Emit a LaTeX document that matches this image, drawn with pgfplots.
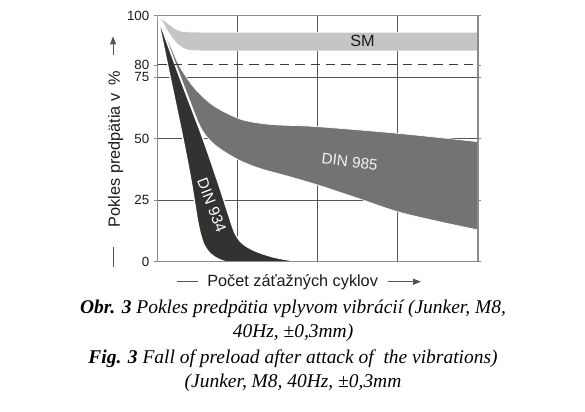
\documentclass[border=0pt]{standalone}
\usepackage{pgfplots}
\pgfplotsset{compat=1.18}
\usepgfplotslibrary{fillbetween}
\usetikzlibrary{arrows.meta}
\usepackage{fontspec}
\setmainfont{Liberation Sans}
\newfontfamily\capfont{Liberation Serif}
\definecolor{smfill}{HTML}{C5C5C5}
\definecolor{dinA}{HTML}{737373}
\definecolor{dinB}{HTML}{323230}
\definecolor{gridc}{HTML}{555555}
\definecolor{framec}{HTML}{8A8A8A}
\definecolor{txt}{HTML}{1A1A1A}
\begin{document}
\begin{tikzpicture}
\begin{axis}[
  at={(0pt,0pt)}, anchor=south west,
  scale only axis, width=240.5pt, height=184.5pt,
  xmin=0, xmax=4, ymin=0, ymax=100,
  axis line style={draw=framec, line width=0.9pt},
  xtick={1,2,3}, xticklabels={},
  xtick style={/pgfplots/major tick length=0pt},
  ytick={0,25,50,75,100},
  extra y ticks={80}, extra y tick style={grid=none},
  tick align=outside, major tick length=2.5pt,
  ytick style={draw=framec, line width=0.6pt},
  grid=major,
  major grid style={draw=gridc, line width=0.6pt},
  tick label style={font=\fontsize{10}{11}\selectfont, text=txt},
  /pgf/number format/assume math mode=true,
  clip=true,
]
% dashed 80 % line
\addplot[draw=txt!85, line width=0.8pt, dash pattern=on 7pt off 4.5pt] coordinates {(0,80) (4,80)};

% SM band
\addplot[name path=smT, draw=none, smooth] coordinates {
 (0,100) (0.08,98.2) (0.16,96.2) (0.23,94.6) (0.3,93.7) (0.4,93.4) (0.6,93.3) (1,93.3) (2,93.3) (4,93.3)};
\addplot[name path=smB, draw=none, smooth] coordinates {
 (0,100) (0.06,97.6) (0.12,94.2) (0.18,91.2) (0.24,88.8) (0.32,86.8) (0.41,85.9) (0.6,85.7) (1,85.7) (2,85.7) (4,85.7)};
\addplot[fill=smfill, draw=white, line width=0.5pt] fill between[of=smT and smB];

% DIN 985 band
\addplot[name path=aT, draw=none, smooth] coordinates {
 (0,100) (0.075,94.2) (0.18,86.5) (0.28,79.3) (0.45,71.1) (0.66,64.4) (0.87,60.3) (1.07,57.6) (1.28,56.3) (1.5,55.6) (2,54.9) (3,52.2) (4,48.8)};
\addplot[name path=aB, draw=none, smooth] coordinates {
 (0,100) (0.14,88) (0.28,76) (0.41,65) (0.52,56) (0.6,51.5) (0.7,48) (0.8,45.5) (0.95,42.5) (1.05,40.8) (1.2,38.8) (1.35,37.2) (1.6,35) (2,31.2) (2.5,25.8) (3,20.3) (3.5,16.4) (4,12.9)};
\addplot[fill=dinA, draw=white, line width=0.5pt] fill between[of=aT and aB];

% DIN 934 band
\addplot[name path=bL, draw=none, smooth] coordinates {
 (0,100) (0.16,75) (0.32,50) (0.42,33) (0.5,17) (0.54,11) (0.58,7) (0.64,4) (0.71,2) (0.8,0.5) (0.86,0)};
\addplot[name path=bR, draw=none, smooth] coordinates {
 (0,100) (0.28,75) (0.57,50) (0.77,31) (0.92,16) (0.97,11.5) (1.03,8.5) (1.1,6.5) (1.2,4.7) (1.3,3.4) (1.45,1.9) (1.6,0.9) (1.8,0)};
\addplot[fill=dinB, draw=white, line width=1pt] fill between[of=bL and bR];

% frame on top
\draw[framec, line width=0.9pt] (rel axis cs:0,0) rectangle (rel axis cs:1,1);

% band labels
\node[font=\fontsize{12.2}{14}\selectfont, text=txt] at (axis cs:2.56,89.7) {SM};
\node[font=\fontsize{11.5}{13}\selectfont, text=white!95!black, rotate=-6.9] at (axis cs:2.40,40.7) {DIN 985};
\node[font=\fontsize{11.5}{13}\selectfont, text=white, rotate=-69, inner sep=0pt] at (axis cs:0.68,23) {DIN 934};
\end{axis}

% axis labels
\node[rotate=90, anchor=base, font=\fontsize{12.2}{14}\selectfont, text=txt] at (-28pt,84.5pt) {Pokles predpätia v\enspace\%};
\draw[gridc, line width=0.8pt] (-33.2pt,-4pt) -- (-33.2pt,11.25pt);
\draw[gridc, line width=0.8pt, -{Triangle[length=6pt,width=4.5pt]}] (-33.2pt,155pt) -- (-33.2pt,169pt);

\node[anchor=base, font=\fontsize{12.2}{14}\selectfont, text=txt] at (101.5pt,-18.6pt) {Počet záťažných cyklov};
\draw[gridc, line width=0.8pt] (14.8pt,-15pt) -- (30.5pt,-15pt);
\draw[gridc, line width=0.8pt, -{Triangle[length=6pt,width=4.5pt]}] (173pt,-15pt) -- (197.8pt,-15pt);

% caption
\node[anchor=base, font=\capfont\fontsize{14.6}{17}\selectfont, text=black] at (101.8pt,-38.5pt) {\textbf{\textit{Obr. 3}} \textit{Pokles predpätia vplyvom vibrácií (Junker, M8,}};
\node[anchor=base, font=\capfont\fontsize{14.6}{17}\selectfont, text=black] at (101.8pt,-56.5pt) {\textit{40Hz, ±0,3mm)}};
\node[anchor=base, font=\capfont\fontsize{14.6}{17}\selectfont, text=black] at (101.8pt,-76.7pt) {\textbf{\textit{Fig. 3}} \textit{Fall of preload after attack of\ \ the vibrations)}};
\node[anchor=base, font=\capfont\fontsize{14.6}{17}\selectfont, text=black] at (101.8pt,-94pt) {\textit{(Junker, M8, 40Hz, ±0,3mm}};

\pgfresetboundingbox
\path[use as bounding box] (-118pt,-112pt) rectangle (320.8pt,196.3pt);
\end{tikzpicture}
\end{document}
